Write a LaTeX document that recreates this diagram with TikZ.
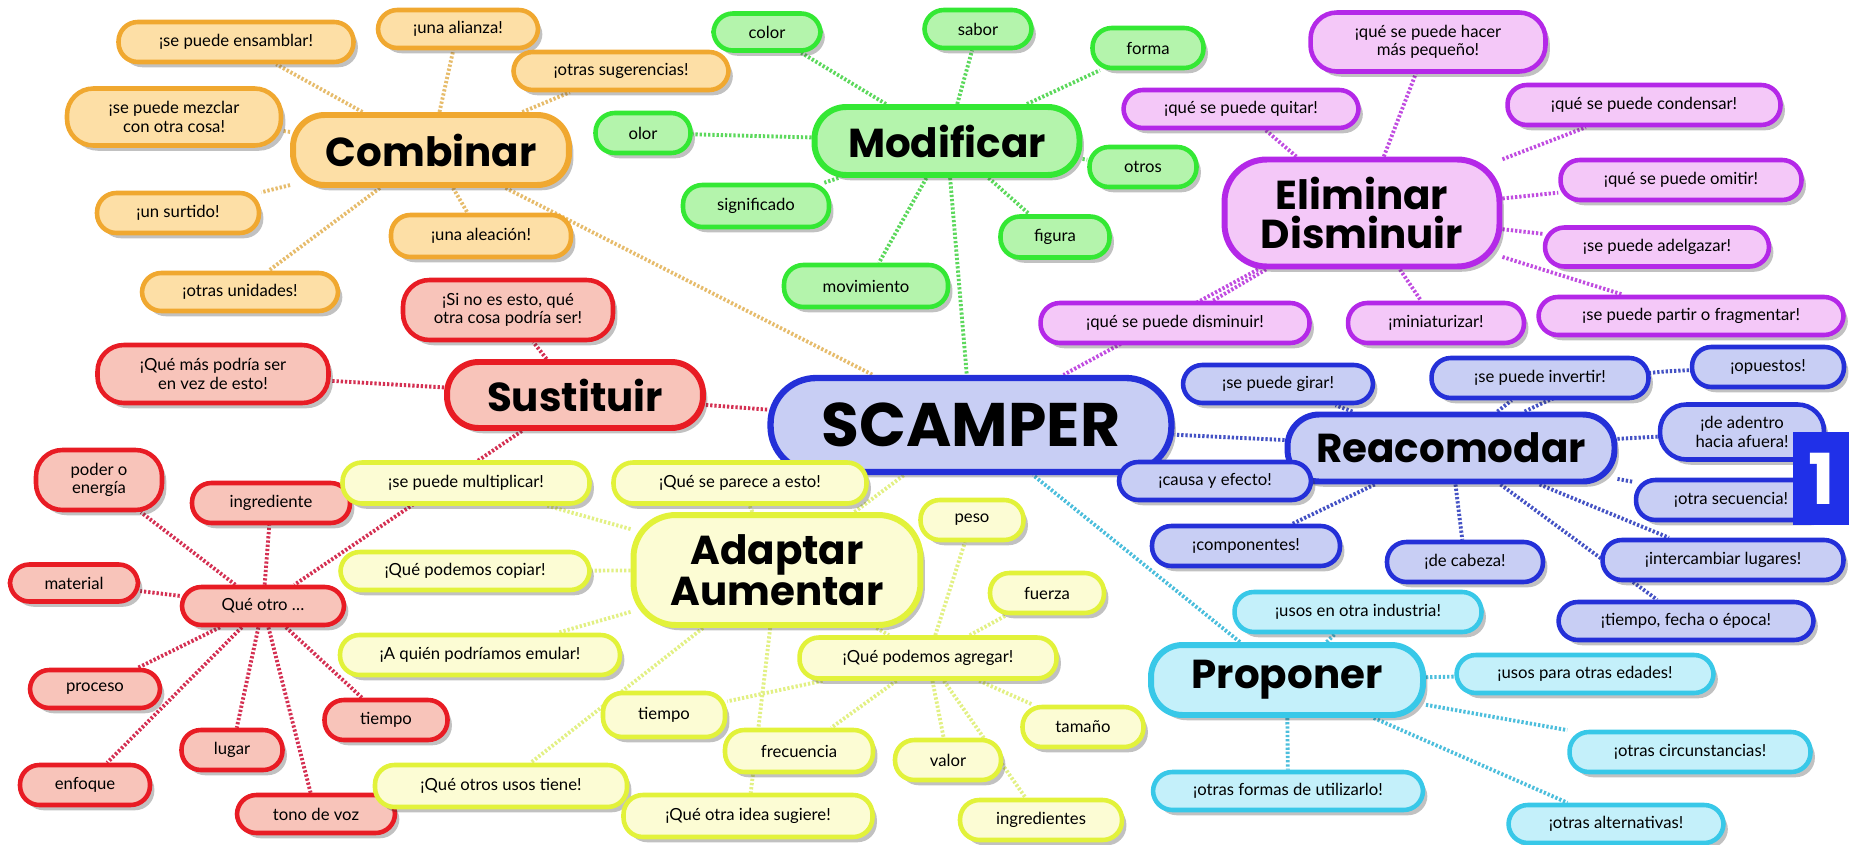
\documentclass[tikz,border=0pt]{standalone}
\usepackage{fontspec}
\setmainfont{Lato}
\newfontfamily\headfont{Poppins}
\usetikzlibrary{shadows,backgrounds}

\definecolor{orfill}{HTML}{FDDFA6}
\definecolor{ordraw}{HTML}{F0A830}
\definecolor{orline}{HTML}{E6BC6C}
\definecolor{grfill}{HTML}{B4F4AC}
\definecolor{grdraw}{HTML}{34E834}
\definecolor{grline}{HTML}{5CD85C}
\definecolor{pufill}{HTML}{F4C8F8}
\definecolor{pudraw}{HTML}{B428E8}
\definecolor{puline}{HTML}{C04CE0}
\definecolor{rdfill}{HTML}{F8C4BA}
\definecolor{rddraw}{HTML}{E81C24}
\definecolor{rdline}{HTML}{D43052}
\definecolor{ylfill}{HTML}{FCFCD4}
\definecolor{yldraw}{HTML}{E2F23A}
\definecolor{ylline}{HTML}{E2F084}
\definecolor{blfill}{HTML}{C8CEF4}
\definecolor{bldraw}{HTML}{2430D8}
\definecolor{blline}{HTML}{4452C4}
\definecolor{cyfill}{HTML}{C4F0FA}
\definecolor{cydraw}{HTML}{38C8E8}
\definecolor{cyline}{HTML}{4CBEDC}
\definecolor{badge}{HTML}{2030E8}

\tikzset{
  bub/.style={rectangle, rounded corners=11pt, line width=2.6pt, inner sep=2pt, align=center,
    font=\fontsize{9.5}{10.5}\selectfont,
    drop shadow={shadow xshift=2.5pt, shadow yshift=-3pt, opacity=0.3, fill=black!80}},
  bub2/.style={bub, rounded corners=15pt},
  big/.style={bub, rounded corners=18pt, line width=3.4pt, font=\headfont\bfseries\fontsize{23}{22}\selectfont},
  big2/.style={big, rounded corners=24pt},
  sz/.style 2 args={minimum width=#1cm, minimum height=#2cm},
  orng/.style={fill=orfill, draw=ordraw},
  gren/.style={fill=grfill, draw=grdraw},
  purp/.style={fill=pufill, draw=pudraw},
  redd/.style={fill=rdfill, draw=rddraw},
  yell/.style={fill=ylfill, draw=yldraw},
  blue/.style={fill=blfill, draw=bldraw},
  cyan/.style={fill=cyfill, draw=cydraw},
  lnk/.style={line width=2.2pt, dash pattern=on 1.3pt off 1.1pt},
  orlk/.style={lnk, draw=orline},
  grlk/.style={lnk, draw=grline},
  pulk/.style={lnk, draw=puline},
  rdlk/.style={lnk, draw=rdline},
  yllk/.style={lnk, draw=ylline},
  bllk/.style={lnk, draw=blline},
  cylk/.style={lnk, draw=cyline}
}

\begin{document}
\begin{tikzpicture}[x=0.02cm, y=-0.02cm]
  \useasboundingbox (0,0) rectangle (1849,845);

  %%%%% centre %%%%%
  \node[bub, blue, sz={8.02}{1.88}, rounded corners=26pt, line width=3.6pt,
        font=\headfont\bfseries\fontsize{35}{38}\selectfont] (scamper) at (971,425) {SCAMPER};

  %%%%% Combinar %%%%%
  \node[big, orng, sz={5.52}{1.4}] (comb) at (431,150) {Combinar};
  \node[bub, orng, sz={4.7}{0.8}] (ens) at (236,42) {¡se puede ensamblar!};
  \node[bub, orng, sz={3.2}{0.76}] (ali) at (458,29) {¡una alianza!};
  \node[bub, orng, sz={4.3}{0.76}] (sug) at (621,71) {¡otras sugerencias!};
  \node[bub2, orng, sz={4.28}{1.14}] (mez) at (174,117) {¡se puede mezclar\\con otra cosa!};
  \node[bub, orng, sz={3.24}{0.8}] (sur) at (178,213) {¡un surtido!};
  \node[bub, orng, sz={3.6}{0.84}] (alea) at (481,236) {¡una aleación!};
  \node[bub, orng, sz={3.92}{0.76}] (uni) at (240,292) {¡otras unidades!};

  %%%%% Modificar %%%%%
  \node[big, gren, sz={5.3}{1.36}] (modif) at (947,141) {Modificar};
  \node[bub, gren, sz={2.14}{0.74}] (color) at (767,32) {color};
  \node[bub, gren, sz={2.14}{0.76}] (sabor) at (978,29) {sabor};
  \node[bub, gren, sz={2.22}{0.8}] (forma) at (1148,48) {forma};
  \node[bub, gren, sz={1.9}{0.8}] (olor) at (643,133) {olor};
  \node[bub, gren, sz={2.14}{0.8}] (otros) at (1143,167) {otros};
  \node[bub, gren, sz={2.92}{0.84}] (signif) at (756,206) {significado};
  \node[bub, gren, sz={2.18}{0.82}] (figura) at (1055,237) {figura};
  \node[bub, gren, sz={3.28}{0.84}] (movim) at (866,286) {movimiento};

  %%%%% Eliminar %%%%%
  \node[big2, purp, sz={5.5}{2.14}] (elim) at (1362,213) {Eliminar\\Disminuir};
  \node[bub2, purp, sz={4.7}{1.18}] (peq) at (1428,42) {¡qué se puede hacer\\más pequeño!};
  \node[bub, purp, sz={4.7}{0.76}] (quitar) at (1241,109) {¡qué se puede quitar!};
  \node[bub, purp, sz={5.46}{0.8}] (cond) at (1644,105) {¡qué se puede condensar!};
  \node[bub, purp, sz={4.82}{0.8}] (omitir) at (1681,180) {¡qué se puede omitir!};
  \node[bub, purp, sz={4.48}{0.78}] (adelg) at (1657,247) {¡se puede adelgazar!};
  \node[bub, purp, sz={5.38}{0.8}] (dismi) at (1175,323) {¡qué se puede disminuir!};
  \node[bub, purp, sz={3.52}{0.8}] (mini) at (1436,323) {¡miniaturizar!};
  \node[bub, purp, sz={6.1}{0.76}] (frag) at (1691,316) {¡se puede partir o fragmentar!};

  %%%%% Reacomodar %%%%%
  \node[big, blue, sz={6.54}{1.34}] (reac) at (1451,448) {Reacomodar};
  \node[bub, blue, sz={3.8}{0.76}] (girar) at (1278,384) {¡se puede girar!};
  \node[bub, blue, sz={4.34}{0.8}] (invert) at (1540,378) {¡se puede invertir!};
  \node[bub, blue, sz={3.04}{0.8}] (opues) at (1768,367) {¡opuestos!};
  \node[bub2, blue, sz={3.28}{1.1}] (adentro) at (1742,432) {¡de adentro\\hacia afuera!};
  \node[bub, blue, sz={3.8}{0.8}] (secuen) at (1731,500) {¡otra secuencia!};
  \node[bub, blue, sz={3.84}{0.76}] (causa) at (1215,481) {¡causa y efecto!};
  \node[bub, blue, sz={3.76}{0.8}] (compon) at (1246,546) {¡componentes!};
  \node[bub, blue, sz={3.12}{0.8}] (cabeza) at (1465,562) {¡de cabeza!};
  \node[bub, blue, sz={4.82}{0.8}] (interc) at (1723,560) {¡intercambiar lugares!};
  \node[bub, blue, sz={5.1}{0.76}] (epoca) at (1686,621) {¡tiempo, fecha o época!};

  %%%%% Proponer %%%%%
  \node[big, cyan, sz={5.44}{1.4}] (prop) at (1287,680) {Proponer};
  \node[bub, cyan, sz={4.94}{0.8}] (indus) at (1358,612) {¡usos en otra industria!};
  \node[bub, cyan, sz={5.14}{0.76}] (edades) at (1585,674) {¡usos para otras edades!};
  \node[bub, cyan, sz={4.82}{0.8}] (circ) at (1690,752) {¡otras circunstancias!};
  \node[bub, cyan, sz={5.4}{0.76}] (formas) at (1288,791) {¡otras formas de utilizarlo!};
  \node[bub, cyan, sz={4.3}{0.76}] (altern) at (1616,824) {¡otras alternativas!};

  %%%%% Sustituir %%%%%
  \node[big, redd, sz={5.12}{1.32}] (sust) at (575,395) {Sustituir};
  \node[bub2, redd, sz={4.2}{1.2}] (sino) at (508,310) {¡Si no es esto, qué\\otra cosa podría ser!};
  \node[bub2, redd, sz={4.62}{1.16}] (envez) at (213,374) {¡Qué más podría ser\\en vez de esto!};
  \node[bub, redd, sz={3.24}{0.76}] (qotro) at (263,606) {Qué otro …};
  \node[bub2, redd, sz={2.52}{1.2}] (poder) at (99,480) {poder o\\energía};
  \node[bub, redd, sz={3.16}{0.8}] (ingr) at (271,503) {ingrediente};
  \node[bub, redd, sz={2.56}{0.74}] (material) at (74,583) {material};
  \node[bub, redd, sz={2.6}{0.76}] (proceso) at (95,689) {proceso};
  \node[bub, redd, sz={2.46}{0.8}] (tiempoR) at (386,720) {tiempo};
  \node[bub, redd, sz={2.02}{0.8}] (lugar) at (232,750) {lugar};
  \node[bub, redd, sz={2.6}{0.8}] (enfoque) at (85,785) {enfoque};
  \node[bub, redd, sz={3.16}{0.76}] (tono) at (316,814) {tono de voz};

  %%%%% Adaptar %%%%%
  \node[big2, yell, sz={5.74}{2.2}] (adapt) at (777,570) {Adaptar\\Aumentar};
  \node[bub, yell, sz={4.94}{0.82}] (mult) at (466,483) {¡se puede multiplicar!};
  \node[bub, yell, sz={5.06}{0.82}] (parece) at (740,483) {¡Qué se parece a esto!};
  \node[bub, yell, sz={4.98}{0.76}] (copiar) at (465,571) {¡Qué podemos copiar!};
  \node[bub, yell, sz={5.6}{0.8}] (emular) at (480,655) {¡A quién podríamos emular!};
  \node[bub, yell, sz={5.04}{0.84}] (usos) at (501,786) {¡Qué otros usos tiene!};
  \node[bub, yell, sz={4.98}{0.84}] (idea) at (748,816) {¡Qué otra idea sugiere!};
  \node[bub, yell, sz={5.14}{0.82}] (agregar) at (928,658) {¡Qué podemos agregar!};
  \node[bub, yell, sz={2.06}{0.8}] (peso) at (972,520) {peso};
  \node[bub, yell, sz={2.28}{0.8}] (fuerza) at (1047,593) {fuerza};
  \node[bub, yell, sz={2.44}{0.88}] (tiempoY) at (664,715) {tiempo};
  \node[bub, yell, sz={2.96}{0.84}] (frec) at (799,751) {frecuencia};
  \node[bub, yell, sz={2.12}{0.8}] (valor) at (948,760) {valor};
  \node[bub, yell, sz={2.42}{0.8}] (tamano) at (1083,727) {tamaño};
  \node[bub, yell, sz={3.24}{0.8}] (ingred) at (1041,820) {ingredientes};

  %%%%% slide number %%%%%
  \node[fill=badge, text=white, anchor=north west, inner sep=0pt, minimum width=1.12cm,
        minimum height=1.86cm, font=\headfont\bfseries\fontsize{40}{40}\selectfont] (slide) at (1793,432) {1};

  %%%%% links %%%%%
  \begin{pgfonlayer}{background}
    \foreach \k in {ens,ali,sug,mez,sur,alea,uni,scamper}
      \draw[orlk] (comb) -- (\k);
    \foreach \k in {color,sabor,forma,olor,otros,signif,figura,movim,scamper}
      \draw[grlk] (modif) -- (\k);
    \foreach \k in {peq,quitar,cond,omitir,adelg,frag,mini,dismi,scamper}
      \draw[pulk] (elim) -- (\k);
    \foreach \k in {sino,envez,scamper,qotro}
      \draw[rdlk] (sust) -- (\k);
    \foreach \k in {poder,ingr,material,proceso,enfoque,lugar,tono,tiempoR}
      \draw[rdlk] (qotro) -- (\k);
    \foreach \k in {scamper,parece,mult,copiar,emular,usos,idea,agregar}
      \draw[yllk] (adapt) -- (\k);
    \foreach \k in {peso,fuerza,tamano,valor,ingred,frec,tiempoY}
      \draw[yllk] (agregar) -- (\k);
    \foreach \k in {girar,invert,adentro,secuen,interc,epoca,cabeza,compon,scamper}
      \draw[bllk] (reac) -- (\k);
    \draw[bllk] (reac) to[bend left=12] (opues);
    \foreach \k in {indus,edades,circ,formas,altern,scamper}
      \draw[cylk] (prop) -- (\k);
  \end{pgfonlayer}
\end{tikzpicture}
\end{document}
